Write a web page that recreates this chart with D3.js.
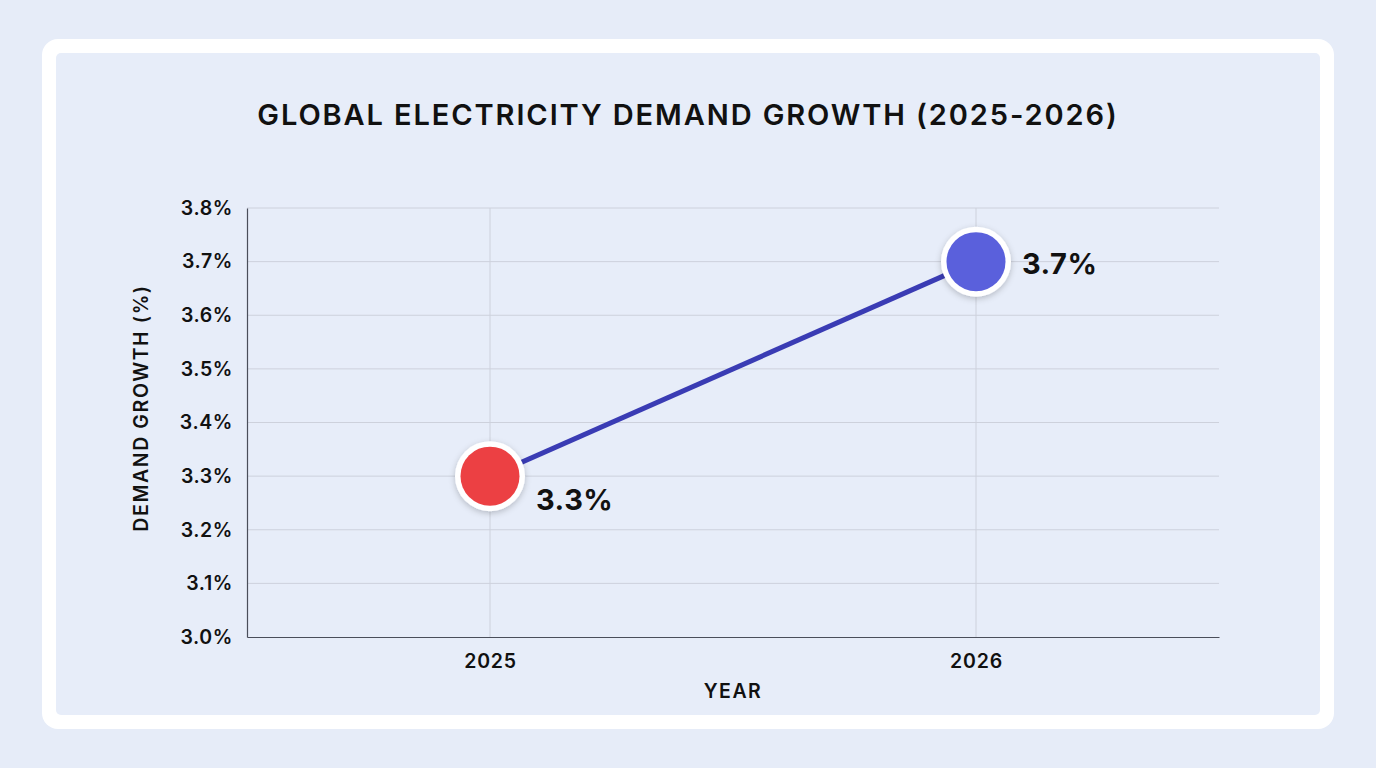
<!DOCTYPE html>
<html>
<head>
<meta charset="utf-8">
<script src="https://cdn.jsdelivr.net/npm/d3@7"></script>
<style>
  html, body { margin: 0; padding: 0; background: #e6ecf8; }
  svg { display: block; font-family: "Inter", "Open Sans", sans-serif; }
</style>
</head>
<body>
<script>
const years = ["2025", "2026"];
const growth = [3.3, 3.7];
const pointColors = ["#ec4043", "#5a60dc"];
const yTicks = [3.0, 3.1, 3.2, 3.3, 3.4, 3.5, 3.6, 3.7, 3.8];
const titleText = "GLOBAL ELECTRICITY DEMAND GROWTH (2025-2026)";
const xTitle = "YEAR";
const yTitle = "DEMAND GROWTH (%)";

const W = 1376, H = 768;
const svg = d3.select("body").append("svg").attr("width", W).attr("height", H);

const defs = svg.append("defs");
const f = defs.append("filter").attr("id", "shadow").attr("x", "-50%").attr("y", "-50%").attr("width", "200%").attr("height", "200%");
f.append("feDropShadow").attr("dx", 0).attr("dy", 2).attr("stdDeviation", 3).attr("flood-color", "#000").attr("flood-opacity", 0.22);

svg.append("rect").attr("width", W).attr("height", H).attr("fill", "#e6ecf8");
svg.append("rect").attr("x", 42).attr("y", 39).attr("width", 1292).attr("height", 690).attr("rx", 16).attr("fill", "#ffffff");
svg.append("rect").attr("x", 56).attr("y", 53).attr("width", 1264).attr("height", 662).attr("rx", 5).attr("fill", "#e7edf9");

const m = { left: 247, right: 1219, top: 208, bottom: 637 };
const x = d3.scalePoint().domain(years).range([m.left, m.right]).padding(0.5);
const y = d3.scaleLinear().domain([3.0, 3.8]).range([m.bottom, m.top]);

// grid
const g = svg.append("g");
g.selectAll("line.hg").data(yTicks.slice(1)).join("line")
  .attr("x1", m.left).attr("x2", m.right)
  .attr("y1", d => y(d)).attr("y2", d => y(d))
  .attr("stroke", "#cdd1dc").attr("stroke-width", 1);
g.selectAll("line.vg").data(years).join("line")
  .attr("x1", d => x(d)).attr("x2", d => x(d))
  .attr("y1", m.top).attr("y2", m.bottom)
  .attr("stroke", "#cdd1dc").attr("stroke-width", 1);

// axes
const yAxis = svg.append("g").attr("transform", `translate(${m.left},0)`)
  .call(d3.axisLeft(y).tickValues(yTicks).tickFormat(d => d.toFixed(1) + "%").tickSize(0).tickPadding(14));
yAxis.select(".domain").attr("stroke", "#4a4e5a").attr("stroke-width", 1.2);
yAxis.selectAll("text").attr("font-size", 19.5).attr("font-weight", 600).attr("fill", "#111")
  .attr("letter-spacing", 0.6).attr("font-family", "Inter, sans-serif");

const xAxis = svg.append("g").attr("transform", `translate(0,${m.bottom})`)
  .call(d3.axisBottom(x).tickSize(0).tickPadding(17));
xAxis.select(".domain").attr("stroke", "#4a4e5a").attr("stroke-width", 1.2);
xAxis.selectAll("text").attr("font-size", 19.5).attr("font-weight", 600).attr("fill", "#111")
  .attr("letter-spacing", 0.8).attr("font-family", "Inter, sans-serif");

// titles
svg.append("text").attr("x", 688).attr("y", 125).attr("text-anchor", "middle")
  .attr("font-size", 29).attr("font-weight", 600).attr("fill", "#111")
  .attr("letter-spacing", 1.9).text(titleText);
svg.append("text").attr("x", (m.left + m.right) / 2).attr("y", 698).attr("text-anchor", "middle")
  .attr("font-size", 19.5).attr("font-weight", 600).attr("fill", "#111")
  .attr("letter-spacing", 1.5).text(xTitle);
svg.append("text").attr("transform", `translate(148,408) rotate(-90)`)
  .attr("text-anchor", "middle").attr("font-size", 19.5).attr("font-weight", 600).attr("fill", "#111")
  .attr("letter-spacing", 1.6).text(yTitle);

// line
const data = years.map((yr, i) => ({ yr, v: growth[i], c: pointColors[i] }));
svg.append("path").datum(data)
  .attr("d", d3.line().x(d => x(d.yr)).y(d => y(d.v)))
  .attr("fill", "none").attr("stroke", "#3a3cb4").attr("stroke-width", 5);

// points
const pts = svg.selectAll("g.pt").data(data).join("g").attr("class", "pt");
pts.append("circle").attr("cx", d => x(d.yr)).attr("cy", d => y(d.v)).attr("r", 35)
  .attr("fill", "#fff").attr("filter", "url(#shadow)");
pts.append("circle").attr("cx", d => x(d.yr)).attr("cy", d => y(d.v)).attr("r", 29.5)
  .attr("fill", d => d.c);

// value labels
svg.selectAll("text.val").data(data).join("text").attr("class", "val")
  .attr("x", d => x(d.yr) + 46)
  .attr("y", (d, i) => y(d.v) + (i === 0 ? 34 : 12))
  .attr("font-size", 29).attr("font-weight", 700).attr("fill", "#111")
  .attr("letter-spacing", 0.5)
  .text(d => d.v.toFixed(1) + "%");
</script>
</body>
</html>
